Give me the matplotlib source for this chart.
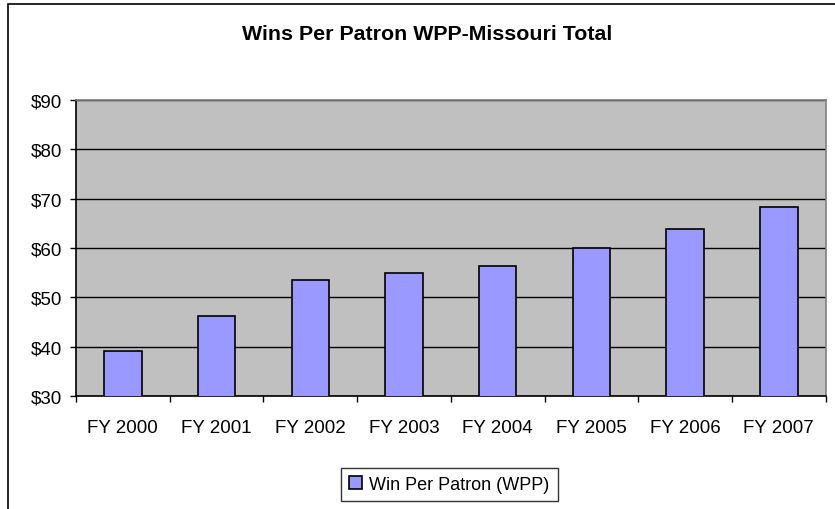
import numpy as np
import matplotlib.pyplot as plt
from matplotlib.patches import Rectangle
from matplotlib.ticker import FuncFormatter

plt.rcParams['font.family'] = ['Liberation Sans', 'DejaVu Sans']

# datos
years = ['FY 2000', 'FY 2001', 'FY 2002', 'FY 2003', 'FY 2004', 'FY 2005', 'FY 2006', 'FY 2007']
wpp = [39.2, 46.2, 53.5, 55.0, 56.4, 60.1, 63.8, 68.2]

W, H = 835, 510
fig = plt.figure(figsize=(W / 100, H / 100), dpi=100)

# borde exterior del grafico
fig.patches.append(Rectangle((8 / W, -0.1), 1.2, 1 - 4.5 / H + 0.1, transform=fig.transFigure,
                             fill=False, edgecolor='black', linewidth=1.2))

left, right, top, bottom = 76, 825.7, 100.7, 397.3
ax = fig.add_axes([left / W, 1 - bottom / H, (right - left) / W, (bottom - top) / H])
ax.set_facecolor('#C0C0C0')

x = np.arange(len(years))
ax.bar(x, wpp, width=0.4, bottom=0, color='#9999FF', edgecolor='black', linewidth=1.2,
       label='Win Per Patron (WPP)', zorder=3)

ax.set_ylim(30, 90)
ax.set_xlim(-0.5, len(years) - 0.5)
ax.set_yticks(np.arange(30, 91, 10))
ax.yaxis.set_major_formatter(FuncFormatter(lambda v, p: '$%d' % v))
ax.grid(axis='y', color='black', linewidth=1, zorder=1)

ax.set_xticks(x)
ax.set_xticklabels(years)
ax.set_xticks(np.arange(-0.5, len(years), 1), minor=True)
ax.tick_params(axis='x', which='major', length=0, pad=16, labelsize=13.5, colors='black')
ax.tick_params(axis='x', which='minor', length=4.3, width=1, direction='out')
ax.tick_params(axis='y', length=4.3, width=1, pad=5.8, labelsize=13.5)

for s in ['top', 'right']:
    ax.spines[s].set_color('#808080')
    ax.spines[s].set_linewidth(1.2)
for s in ['left', 'bottom']:
    ax.spines[s].set_color('black')
    ax.spines[s].set_linewidth(1.2)

fig.text(427.3 / W, 1 - 34 / H, 'Wins Per Patron WPP-Missouri Total', ha='center', va='center',
         fontsize=15.4, fontweight='bold')

leg = fig.legend(loc='center', bbox_to_anchor=(449.5 / W, 1 - 485.4 / H), fontsize=13,
                 frameon=True, fancybox=False, edgecolor='black', handlelength=0.7,
                 handleheight=0.7, handletextpad=0.4, borderpad=0.45)
leg.get_frame().set_linewidth(1)

fig.savefig('out.png', dpi=100)
